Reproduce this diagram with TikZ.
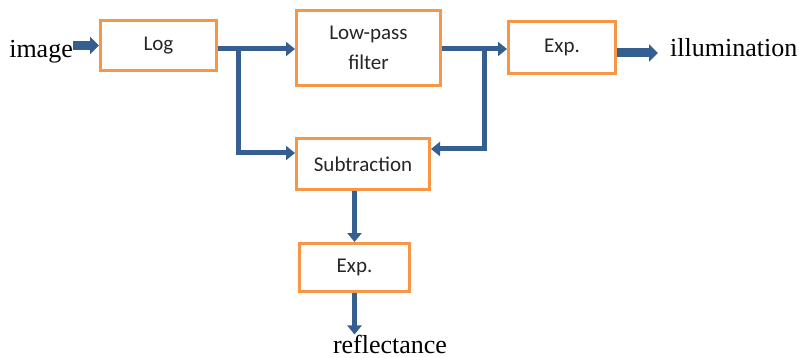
\documentclass[tikz,border=0pt]{standalone}
\usepackage{fontspec}
\setmainfont{Liberation Serif}
\newfontfamily\boxfont{Carlito}
\usetikzlibrary{arrows.meta}
\definecolor{boxorange}{RGB}{247,150,70}
\definecolor{flowblue}{RGB}{54,95,145}

\begin{document}
\begin{tikzpicture}[x=1pt,y=-1pt]
    \useasboundingbox (0,0) rectangle (799,358);

    \begin{scope} [box style/.style={draw=boxorange,
                                     line width=3pt,
                                     fill=white,
                                     inner sep=0pt,
                                     align=center,
                                     text=black!85,
                                     font=\boxfont\fontsize{21}{30}\selectfont}]
      \path \foreach \name/\x/\y/\w/\h/\txt in {log/158.5/45.5/116/50/Log,
         lpf/368.5/48/144/75/{Low-pass\\filter},
         expa/562/47.5/107/52/Exp.,
         sub/363/164/133/51/Subtraction,
         expb/354.5/267.5/110/48/Exp.}{%
       (\x,\y) node[box style,minimum width=\w pt,minimum height=\h pt] (\name) {\txt}}
       ;
    \end{scope}

    \begin{scope} [label style/.style={inner sep=0pt,
                                       font=\fontsize{26}{26}\selectfont}]
      \node[label style,anchor=base east] (image) at (73,58) {image};
      \node[label style,anchor=base west] (illum) at (670,57) {illumination};
      \node[label style,anchor=base] (refl) at (390,353) {reflectance};
    \end{scope}

    \coordinate (forkA) at (238,49);
    \coordinate (forkB) at (484,49);
    \coordinate (outA) at (658,53);

     \begin{scope} [flow style/.style={draw=flowblue,line width=5pt,
                                       -{Triangle[length=9pt,width=14pt]}},
                    block style/.style={draw=flowblue,line width=9pt,
                                       -{Triangle[length=9pt,width=17pt]}}]
       \draw[block style] (image.east |- log.west) -- (log.west);
       \draw[flow style] (forkA -| log.east) -- (forkA -| lpf.west);
       \draw[flow style] (forkA) |- ([yshift=11pt]sub.west);
       \draw[flow style] (forkB -| lpf.east) -- (forkB -| expa.west);
       \draw[flow style] (forkB) |- ([yshift=15pt]sub.east);
       \draw[block style] (outA -| expa.east) -- (outA);
       \draw[flow style] (expb.north |- sub.south) -- (expb.north);
       \draw[flow style] (expb.south) -- (expb.south |- refl.north);
     \end{scope}

  \end{tikzpicture}
\end{document}
